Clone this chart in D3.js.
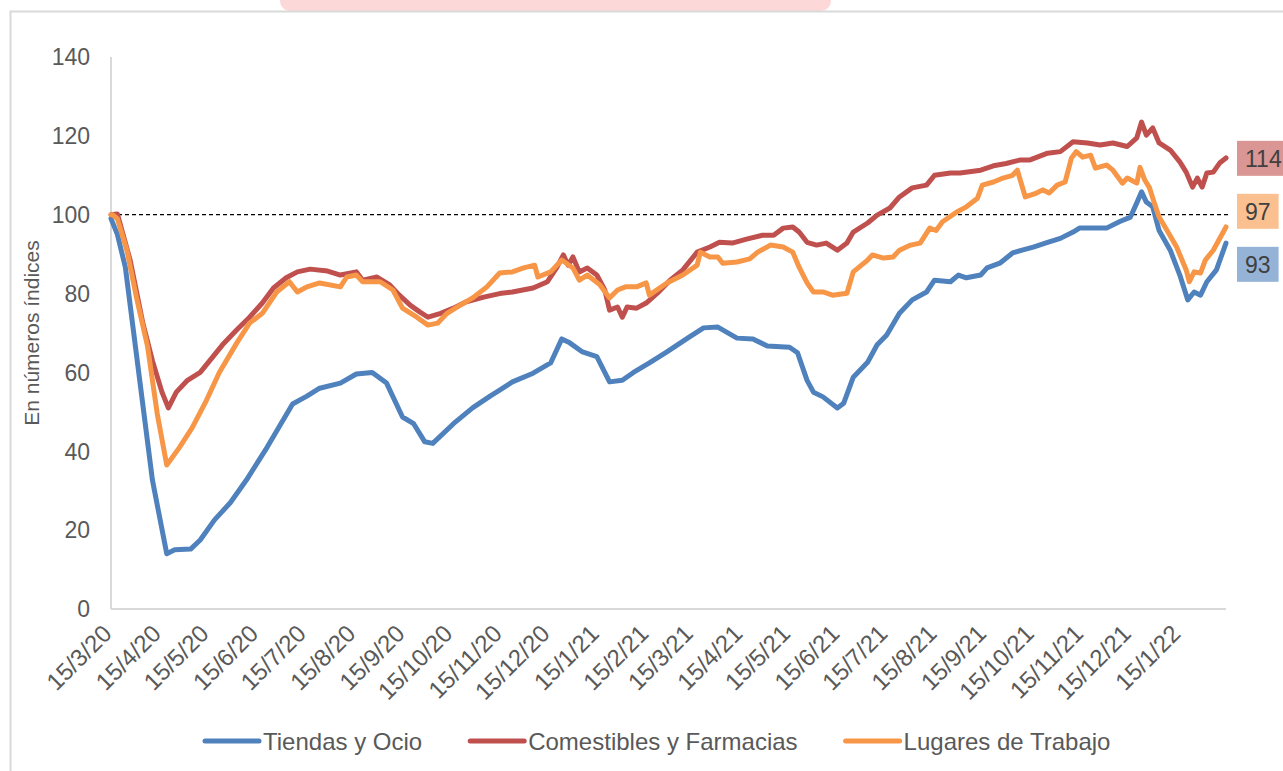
<!DOCTYPE html>
<html>
<head>
<meta charset="utf-8">
<script src="https://cdn.jsdelivr.net/npm/d3@7"></script>
<style>
    body { margin: 0; background: #fff; }
    text { font-family: "Liberation Sans", Arial, sans-serif; }
</style>
</head>
<body>
<svg id="chart" width="1283" height="771"></svg>
<script>
// data: [days since 15/3/20, index value]
const START_DATE = new Date(2020, 2, 15)
const LAST_DAY = 700

const seriesNames = ['Tiendas y Ocio', 'Comestibles y Farmacias', 'Lugares de Trabajo']
const seriesColors = ['#4f81bd', '#c0504d', '#f79646']
const labelColors = ['#95b3d7', '#d99694', '#fac090']

const tiendas = [
    [0, 99], [4, 95], [9, 86.7], [26, 32.7], [35, 14], [40, 15], [50, 15.2], [56, 17.5], [65, 22.6],
    [75, 27], [85, 32.7], [98, 41], [114, 52], [123, 54], [131, 56], [144, 57.3], [154, 59.6],
    [164, 60], [173, 57.3], [183, 48.7], [190, 47], [197, 42.4], [202, 42], [215, 47], [227, 51],
    [238, 54], [244, 55.5], [252, 57.6], [265, 59.8], [276, 62.4], [283, 68.5], [288, 67.5],
    [296, 65.2], [305, 64], [313, 57.6], [321, 58], [328, 60], [338, 62.4], [349, 65.2], [362, 68.7],
    [372, 71.3], [381, 71.5], [393, 68.7], [403, 68.5], [412, 66.7], [426, 66.4], [431, 65],
    [437, 58], [441, 55], [447, 53.8], [456, 51], [460, 52.2], [466, 58.8], [475, 62.6], [481, 67],
    [487, 69.5], [495, 75], [503, 78.4], [512, 80.4], [517, 83.4], [527, 83], [532, 84.7], [537, 84],
    [546, 84.7], [550, 86.5], [558, 87.7], [566, 90.3], [572, 91], [579, 91.8], [588, 93], [596, 94],
    [604, 95.6], [608, 96.6], [615, 96.6], [625, 96.6], [633, 98.2], [640, 99.4], [644, 103],
    [647, 105.8], [650, 103.2], [654, 102], [658, 96], [665, 91], [671, 84.7], [676, 78.4],
    [680, 80.4], [684, 79.6], [688, 83], [694, 86], [700, 92.8]
]

const comestibles = [
    [0, 100], [4, 100.2], [12, 88.5], [20, 72.5], [26, 63], [32, 55], [36, 51], [41, 55], [48, 58],
    [56, 60], [62, 63], [70, 67], [79, 70.8], [87, 74], [95, 77.6], [102, 81.4], [110, 84], [117, 85.5],
    [125, 86.2], [136, 85.7], [144, 84.7], [154, 85.5], [158, 83.4], [167, 84.2], [175, 82.2],
    [181, 79.6], [188, 77], [194, 75.3], [199, 74], [207, 75], [215, 76.3], [223, 77.9], [234, 79.1],
    [244, 80], [252, 80.4], [265, 81.4], [274, 83], [280, 86.7], [284, 89.8], [287, 87.2], [290, 89.3],
    [294, 85.5], [299, 86.5], [305, 84.7], [310, 80.9], [313, 75.8], [318, 76.6], [321, 74], [324, 76.6],
    [330, 76.3], [336, 77.6], [343, 80.1], [351, 83.4], [359, 86], [368, 90.5], [376, 91.8], [382, 93],
    [390, 92.8], [399, 93.8], [409, 94.8], [416, 94.8], [422, 96.6], [428, 96.9], [432, 95.6], [437, 93],
    [443, 92.3], [449, 92.8], [456, 91], [462, 92.8], [466, 95.6], [475, 97.9], [481, 99.9], [489, 101.7],
    [495, 104.5], [503, 106.8], [512, 107.5], [517, 110], [527, 110.6], [533, 110.6], [546, 111.3],
    [554, 112.4], [562, 113], [571, 113.9], [577, 113.9], [588, 115.6], [596, 116], [604, 118.5],
    [613, 118.2], [621, 117.7], [629, 118.2], [638, 117.3], [644, 119.5], [647, 123.5], [650, 120.2],
    [654, 122], [658, 118.2], [665, 116.4], [671, 113.4], [675, 110.8], [679, 107], [682, 109.3],
    [685, 107], [688, 110.6], [692, 110.8], [696, 113.1], [700, 114.4]
]

const lugares = [
    [0, 100], [1, 100], [4, 99], [10, 91], [16, 79], [23, 66.5], [29, 49.6], [35, 36.5], [43, 41],
    [51, 46], [60, 53], [68, 60], [79, 67.5], [87, 72.5], [95, 75], [104, 80.4], [112, 83], [117, 80.4],
    [123, 81.7], [131, 82.7], [144, 81.7], [148, 84.2], [154, 84.7], [158, 83], [169, 83], [177, 80.9],
    [183, 76.3], [192, 74], [199, 72], [205, 72.5], [211, 75], [219, 77], [227, 78.9], [236, 81.7],
    [244, 85.2], [252, 85.5], [259, 86.5], [266, 87.2], [268, 84.2], [276, 85.5], [283, 88.5],
    [290, 86.5], [294, 83.4], [299, 84.7], [307, 82.2], [313, 78.9], [318, 80.9], [323, 81.7],
    [330, 81.7], [336, 82.7], [338, 79.6], [349, 82.7], [359, 84.7], [368, 87.2], [370, 90.5],
    [376, 89.3], [381, 89.3], [384, 87.7], [393, 88], [401, 88.8], [406, 90.5], [414, 92.3], [422, 91.8],
    [428, 90.5], [432, 86.7], [437, 82.7], [441, 80.4], [447, 80.4], [453, 79.6], [462, 80.1],
    [466, 85.5], [475, 88.5], [478, 89.8], [485, 89], [491, 89.3], [495, 91], [502, 92.3], [508, 92.8],
    [514, 96.6], [518, 96], [522, 98.2], [531, 100.7], [537, 102], [544, 104.2], [547, 107.5],
    [554, 108.3], [560, 109.3], [566, 110], [569, 111.3], [574, 104.5], [581, 105.5], [585, 106.3],
    [589, 105.5], [594, 107.5], [599, 108.3], [603, 114.4], [606, 116], [610, 114.6], [615, 115.1],
    [618, 111.8], [625, 112.6], [629, 111.3], [635, 108], [638, 109.3], [644, 108], [646, 112],
    [649, 108.8], [652, 106.8], [655, 103], [658, 99.4], [663, 96], [669, 91.8], [675, 86], [677, 83],
    [680, 85.5], [684, 85.2], [687, 88.5], [692, 91], [700, 96.9]
]

const seriesData = [tiendas, comestibles, lugares]

const xTickLabels = ['15/3/20', '15/4/20', '15/5/20', '15/6/20', '15/7/20', '15/8/20', '15/9/20',
    '15/10/20', '15/11/20', '15/12/20', '15/1/21', '15/2/21', '15/3/21', '15/4/21', '15/5/21',
    '15/6/21', '15/7/21', '15/8/21', '15/9/21', '15/10/21', '15/11/21', '15/12/21', '15/1/22']
const yTicks = [0, 20, 40, 60, 80, 100, 120, 140]
const REFERENCE_LEVEL = 100
const yTitle = 'En números índices'

const svg = d3.select('#chart')
const toDate = day => d3.timeDay.offset(START_DATE, day)
const parseTick = d3.timeParse('%d/%m/%y')

const x = d3.scaleTime()
    .domain([START_DATE, toDate(LAST_DAY)])
    .range([111, 1226])
const y = d3.scaleLinear()
    .domain([0, 140])
    .range([609, 57])

// outer frame + the bit of the title banner that sticks in at the top
svg.append('rect')
    .attr('x', 280).attr('y', -20)
    .attr('width', 551).attr('height', 31)
    .attr('rx', 10)
    .attr('fill', '#fdd8d8')
svg.append('path')
    .attr('d', 'M10.5,771 V11.5 H1283')
    .attr('fill', 'none')
    .attr('stroke', '#d9d9d9')
    .attr('stroke-width', 2)

// axes
svg.append('line')
    .attr('x1', x.range()[0]).attr('x2', x.range()[0])
    .attr('y1', y(140)).attr('y2', y(0))
    .attr('stroke', '#d9d9d9').attr('stroke-width', 2)
svg.append('line')
    .attr('x1', x.range()[0]).attr('x2', x.range()[1])
    .attr('y1', y(0)).attr('y2', y(0))
    .attr('stroke', '#d9d9d9').attr('stroke-width', 2)

svg.append('g')
    .selectAll('text')
    .data(yTicks)
    .join('text')
    .attr('x', 90)
    .attr('y', d => y(d))
    .attr('dy', '0.36em')
    .attr('text-anchor', 'end')
    .attr('font-size', 23)
    .attr('fill', '#595959')
    .text(d => d)

svg.append('text')
    .attr('transform', `translate(39,${(y(0) + y(140)) / 2}) rotate(-90)`)
    .attr('text-anchor', 'middle')
    .attr('font-size', 21)
    .attr('fill', '#595959')
    .text(yTitle)

svg.append('g')
    .selectAll('text')
    .data(xTickLabels)
    .join('text')
    .attr('transform', d => `translate(${x(parseTick(d)) - 4},${y(0) + 20}) rotate(-45)`)
    .attr('text-anchor', 'end')
    .attr('dy', '0.36em')
    .attr('font-size', 24)
    .attr('fill', '#595959')
    .text(d => d)

// reference line at 100
svg.append('line')
    .attr('x1', x.range()[0]).attr('x2', x.range()[1] + 2)
    .attr('y1', y(REFERENCE_LEVEL)).attr('y2', y(REFERENCE_LEVEL))
    .attr('stroke', '#000')
    .attr('stroke-width', 1.3)
    .attr('stroke-dasharray', '4,3')

// series
const line = d3.line()
    .x(d => x(toDate(d[0])))
    .y(d => y(d[1]))

svg.append('g')
    .selectAll('path')
    .data(seriesData)
    .join('path')
    .attr('d', line)
    .attr('fill', 'none')
    .attr('stroke', (d, i) => seriesColors[i])
    .attr('stroke-width', 5)
    .attr('stroke-linejoin', 'round')
    .attr('stroke-linecap', 'round')

// end labels, nudged apart so they don't overlap
const endLabels = seriesData.map((s, i) => {
    const v = s[s.length - 1][1]
    return { i, v, y: y(v) }
}).sort((a, b) => a.y - b.y)
const GAP = 53
for (let k = 0; k < 30; k++) {
    for (let j = 0; j < endLabels.length - 1; j++) {
        const a = endLabels[j], b = endLabels[j + 1]
        if (b.y - a.y < GAP) {
            const mid = (a.y + b.y) / 2
            a.y = mid - GAP / 2
            b.y = mid + GAP / 2
        }
    }
}

const gLabels = svg.append('g')
endLabels.forEach(lab => {
    const g = gLabels.append('g').attr('transform', `translate(1237,${lab.y + 2})`)
    const rect = g.append('rect').attr('fill', labelColors[lab.i])
    const t = g.append('text')
        .attr('x', 8)
        .attr('dy', '0.36em')
        .attr('font-size', 23)
        .attr('fill', '#404040')
        .text(Math.round(lab.v))
    const w = t.node().getComputedTextLength()
    rect.attr('x', 0).attr('y', -17.5).attr('width', w + 16).attr('height', 35)
})

// legend
const gLegend = svg.append('g').attr('transform', 'translate(0,741)')
let lx = 205
seriesNames.forEach((name, i) => {
    gLegend.append('line')
        .attr('x1', lx).attr('x2', lx + 54)
        .attr('stroke', seriesColors[i])
        .attr('stroke-width', 5)
        .attr('stroke-linecap', 'round')
    const t = gLegend.append('text')
        .attr('x', lx + 58)
        .attr('dy', '0.36em')
        .attr('font-size', 24)
        .attr('fill', '#595959')
        .text(name)
    lx = lx + 58 + t.node().getComputedTextLength() + 48
})
</script>
</body>
</html>
